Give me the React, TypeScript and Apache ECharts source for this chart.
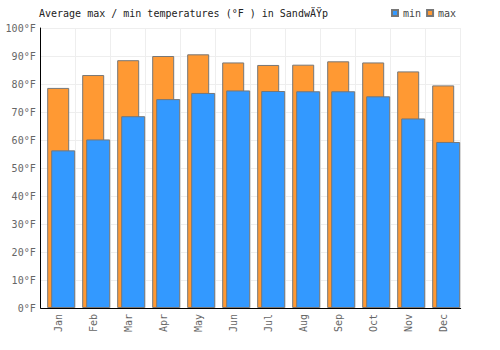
import React, { useEffect, useRef } from "react";
import * as echarts from "echarts";

const months = ["Jan", "Feb", "Mar", "Apr", "May", "Jun", "Jul", "Aug", "Sep", "Oct", "Nov", "Dec"];
const maxTemps = [78.6, 83.2, 88.5, 90.0, 90.6, 87.7, 86.8, 86.9, 88.1, 87.7, 84.5, 79.5];
const minTemps = [56.3, 60.2, 68.5, 74.6, 76.8, 77.7, 77.5, 77.4, 77.4, 75.6, 67.7, 59.3];
const spacer = months.map(() => "-");

const FONT = "DejaVu Sans Mono";

export default function App() {
  const ref = useRef<HTMLDivElement>(null);
  useEffect(() => {
    if (!ref.current) return;
    const chart = echarts.init(ref.current, undefined, { renderer: "svg" });
    chart.setOption({
      animation: false,
      backgroundColor: "#fff",
      title: {
        text: "Average max / min temperatures (°F ) in SandwÄŸp",
        left: 34,
        top: 3,
        textStyle: { fontFamily: FONT, fontSize: 10, fontWeight: "normal", color: "#222" },
      },
      legend: {
        data: ["min", "max"],
        left: 386,
        top: 3,
        icon: "rect",
        itemWidth: 6,
        itemHeight: 6,
        itemGap: 5,
        textStyle: { fontFamily: FONT, fontSize: 10, color: "#444" },
      },
      grid: { left: 40.7, right: 39.3, top: 28, bottom: 42, containLabel: false },
      xAxis: [
        {
          type: "category",
          data: months,
          axisLine: { show: true, lineStyle: { color: "#000", width: 1 } },
          axisTick: { show: false },
          axisLabel: { rotate: 90, fontFamily: FONT, fontSize: 10, color: "#666", margin: 6 },
          splitLine: { show: true, lineStyle: { color: "#eee", width: 1 } },
        },
        {
          type: "category",
          data: months,
          show: false,
          gridIndex: 0,
        },
      ],
      yAxis: {
        type: "value",
        min: 0,
        max: 100,
        interval: 10,
        axisLine: { show: true, lineStyle: { color: "#000", width: 1 } },
        axisTick: { show: false },
        axisLabel: { formatter: "{value}°F", fontFamily: FONT, fontSize: 10, color: "#666", margin: 5 },
        splitLine: { show: true, lineStyle: { color: "#eee", width: 1 } },
      },
      series: [
        {
          name: "max",
          type: "bar",
          xAxisIndex: 0,
          data: maxTemps,
          barWidth: 22,
          itemStyle: { color: "#FF9933", borderColor: "#777", borderWidth: 1 },
        },
        {
          name: "spacer",
          type: "bar",
          xAxisIndex: 1,
          data: spacer,
          barWidth: 10,
          barGap: "0%",
          itemStyle: { color: "transparent" },
          silent: true,
        },
        {
          name: "min",
          type: "bar",
          xAxisIndex: 1,
          data: minTemps,
          barWidth: 24,
          barGap: "0%",
          itemStyle: { color: "#3399FF", borderColor: "#777", borderWidth: 1 },
        },
      ],
    });
    return () => chart.dispose();
  }, []);
  return (
    <div
      ref={ref}
      style={{ position: "absolute", left: 0, top: 0, width: 500, height: 350 }}
    />
  );
}
